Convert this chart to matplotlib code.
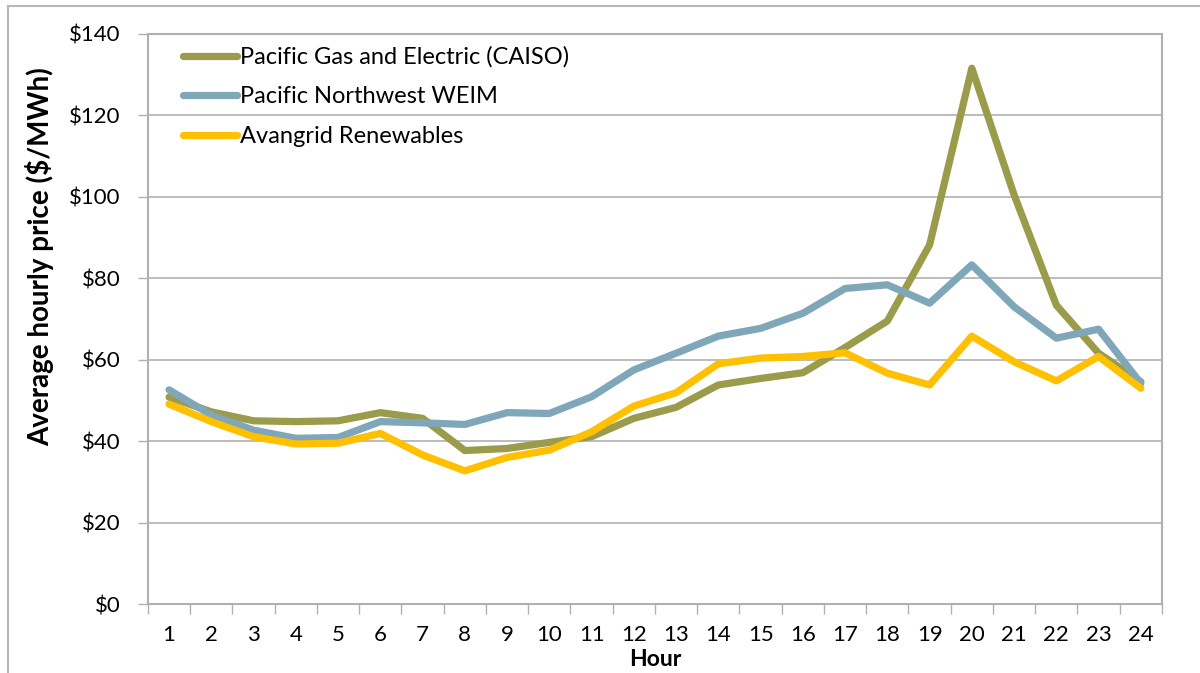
import numpy as np
import matplotlib
matplotlib.use("Agg")
import matplotlib.pyplot as plt
from matplotlib.lines import Line2D
from matplotlib.ticker import FixedLocator, FuncFormatter

plt.rcParams["font.family"] = ["Lato", "DejaVu Sans"]

hours = list(range(1, 25))
pge = [50.8, 47.2, 45.0, 44.8, 45.0, 47.0, 45.6, 37.7, 38.2, 39.7, 41.1, 45.6,
       48.3, 53.8, 55.4, 56.8, 63.0, 69.5, 88.2, 131.6, 100.5, 73.4, 61.6, 54.6]
pnw = [52.6, 46.4, 42.7, 40.7, 40.9, 44.8, 44.5, 44.1, 47.0, 46.8, 50.9, 57.5,
       61.6, 65.8, 67.7, 71.4, 77.5, 78.4, 73.9, 83.3, 73.0, 65.3, 67.5, 54.2]
avangrid = [49.1, 44.8, 41.1, 39.3, 39.5, 41.9, 36.6, 32.7, 36.0, 37.8, 42.3, 48.6,
            51.9, 59.0, 60.4, 60.8, 61.7, 56.7, 53.8, 65.8, 59.5, 54.8, 60.8, 53.0]
series_names = ["Pacific Gas and Electric (CAISO)", "Pacific Northwest WEIM",
                "Avangrid Renewables"]
yticks = [0, 20, 40, 60, 80, 100, 120, 140]

colors = ["#9A9B4B", "#80A6B9", "#FFC000"]
GRID = "#B0B0B0"

fig = plt.figure(figsize=(12, 6.73), dpi=100)
ax = fig.add_axes([0.1233, 0.1025, 0.845, 0.847])

for vals, name, col in zip([pge, pnw, avangrid], series_names, colors):
    ax.plot(hours, vals, color=col, lw=5.2, label=name, solid_joinstyle="round",
            solid_capstyle="round", zorder=3)

ax.set_xlim(0.5, 24.5)
ax.set_ylim(0, 140)
ax.set_yticks(yticks)
ax.yaxis.set_major_formatter(FuncFormatter(lambda v, p: f"${v:.0f}"))
ax.grid(axis="y", color=GRID, lw=1.2, zorder=0)

ax.set_xticks(hours)
ax.xaxis.set_minor_locator(FixedLocator(np.arange(0.5, 25, 1)))
ax.tick_params(axis="x", which="major", length=0, pad=15, labelsize=16, colors="black")
ax.tick_params(axis="x", which="minor", length=7, width=1, color=GRID, direction="out")
ax.tick_params(axis="y", length=7.5, width=1, color=GRID, labelsize=16, pad=12)

for sp in ax.spines.values():
    sp.set_color(GRID)
    sp.set_linewidth(1.5)

ax.set_ylabel("Average hourly price ($/MWh)", fontsize=20, fontweight="bold")
ax.yaxis.set_label_coords(-0.093, 0.61)
ax.set_xlabel("Hour", fontsize=16.5, fontweight="bold", labelpad=3)

ax.legend(loc="upper left", frameon=False, fontsize=17, handlelength=2.3,
          handletextpad=0.12, labelspacing=0.78, borderaxespad=0.3,
          bbox_to_anchor=(0.018, 1.007))

# outer chart border (top and left visible)
fig.add_artist(Line2D([8 / 1200, 8 / 1200], [0, 1 - 6 / 673], color="#B8B8B8", lw=1.5,
                      transform=fig.transFigure))
fig.add_artist(Line2D([8 / 1200, 1], [1 - 6 / 673, 1 - 6 / 673], color="#B8B8B8", lw=1.5,
                      transform=fig.transFigure))

fig.savefig("out.png", dpi=100, facecolor="white")
